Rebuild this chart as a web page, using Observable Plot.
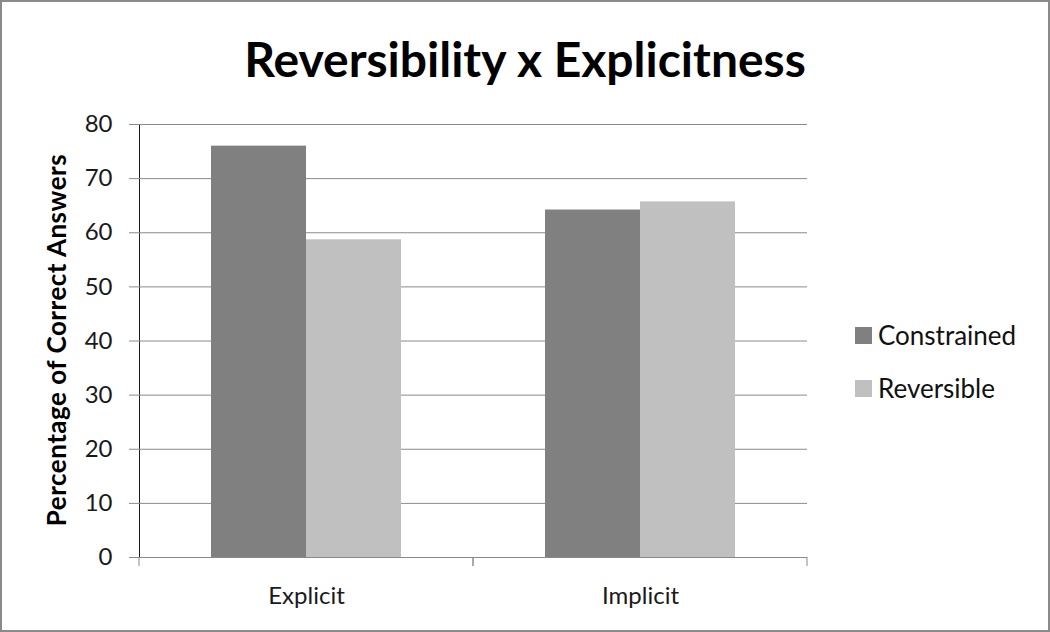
<!DOCTYPE html>
<html>
<head>
<meta charset="utf-8">
<script src="https://cdn.jsdelivr.net/npm/d3@7"></script>
<script src="https://cdn.jsdelivr.net/npm/@observablehq/plot@0.6"></script>
<style>
  body { margin: 0; background: #fff; }
  #chart { position: relative; width: 1050px; height: 632px; overflow: hidden; font-family: Lato, "Open Sans", sans-serif; background: #fff; }
  #plot { position: absolute; left: 0; top: 0; }
  #frame { position: absolute; left: 0; top: 0; width: 1050px; height: 632px; box-sizing: border-box; border: 2px solid #8a8a8a; pointer-events: none; }
  #title { position: absolute; left: 0; width: 1050px; top: 27px; text-align: center; font-weight: bold; font-size: 48px; line-height: 64px; color: #000; }
  #ylabel { position: absolute; left: 56px; top: 340px; transform: translate(-50%, -50%) rotate(-90deg); white-space: nowrap; font-weight: bold; font-size: 26px; letter-spacing: 0.5px; color: #000; }
  #legend { position: absolute; left: 855px; top: 318px; font-size: 26px; color: #111; }
  .item { display: flex; align-items: center; height: 34px; margin-bottom: 19px; }
  .sw { width: 17px; height: 17px; margin-right: 6px; }
  #plot svg text { font-size: 24px; }
  #plot [aria-label="y-axis tick"], #plot [aria-label="y-axis line"] { stroke: #8a8a8a; }
  #plot [aria-label="y-axis tick"] path { stroke: #8a8a8a; }
  #plot [aria-label="y-axis tick label"], #plot [aria-label="fx-axis tick label"] { fill: #1a1a1a; }
</style>
</head>
<body>
<div id="chart">
  <div id="plot"></div>
  <div id="title">Reversibility x Explicitness</div>
  <div id="ylabel">Percentage of Correct Answers</div>
  <div id="legend"></div>
  <div id="frame"></div>
</div>
<script>
const conditions = ["Explicit", "Implicit"];
const seriesNames = ["Constrained", "Reversible"];
const constrainedValues = [76, 64.2];
const reversibleValues = [58.7, 65.7];
const yTicks = [0, 10, 20, 30, 40, 50, 60, 70, 80];
const seriesColors = ["#808080", "#c0c0c0"];

const rows = conditions.flatMap((c, i) => [
  {cond: c, series: seriesNames[0], value: constrainedValues[i]},
  {cond: c, series: seriesNames[1], value: reversibleValues[i]}
]);

const gridColor = "#8a8a8a";

function boundaryTicks(index, scales, values, dimensions) {
  const g = d3.create("svg:g").attr("stroke", gridColor).attr("stroke-width", 1);
  let x0, x1;
  if (scales.x && scales.x.range) {
    [x0, x1] = scales.x.range();
  } else {
    x0 = dimensions.marginLeft; x1 = dimensions.width - dimensions.marginRight;
  }
  const yb = scales.y(0);
  for (const x of [x0, x1]) {
    g.append("line").attr("x1", x).attr("x2", x).attr("y1", yb).attr("y2", yb + 9);
  }
  return g.node();
}

const chart = Plot.plot({
  width: 1050,
  height: 632,
  marginLeft: 139,
  marginRight: 243,
  marginTop: 124,
  marginBottom: 75,
  style: {fontFamily: "Lato, 'Open Sans', sans-serif", fontSize: "24px", color: "#1a1a1a", background: "transparent", overflow: "visible"},
  fx: {domain: conditions, padding: 0, label: null, tickSize: 0, tickPadding: 29, axis: "bottom"},
  x: {domain: seriesNames, paddingInner: 0, paddingOuter: 0.75, axis: null},
  y: {domain: [0, 80], ticks: yTicks, tickSize: 10, tickPadding: 17, label: null, line: true},
  color: {domain: seriesNames, range: seriesColors},
  marks: [
    Plot.ruleY(yTicks.filter(d => d > 0), {stroke: gridColor, strokeOpacity: 1}),
    Plot.barY(rows, {fx: "cond", x: "series", y: "value", fill: "series"}),
    Plot.ruleY([0], {stroke: gridColor, strokeOpacity: 1}),
    boundaryTicks
  ]
});
document.getElementById("plot").appendChild(chart);

const legend = document.getElementById("legend");
seriesNames.forEach((s, i) => {
  const item = document.createElement("div");
  item.className = "item";
  const sw = document.createElement("div");
  sw.className = "sw";
  sw.style.background = seriesColors[i];
  const lab = document.createElement("span");
  lab.textContent = s;
  item.appendChild(sw);
  item.appendChild(lab);
  legend.appendChild(item);
});
</script>
</body>
</html>
